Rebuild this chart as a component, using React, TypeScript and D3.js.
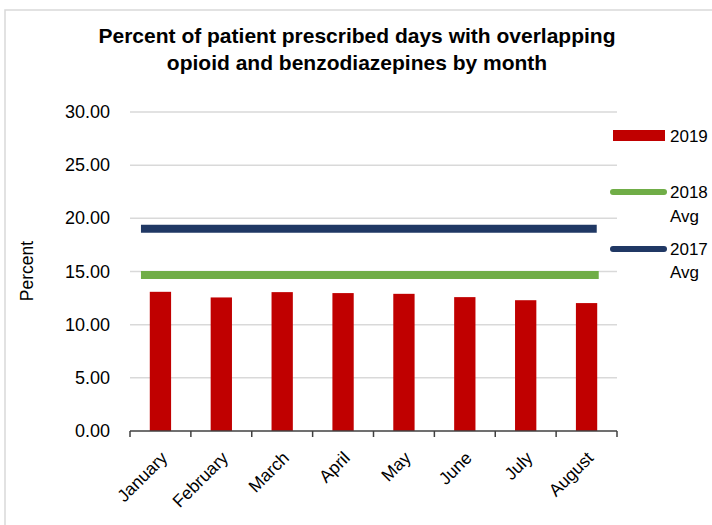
import React from "react";
import * as d3 from "d3";

const months = ["January", "February", "March", "April", "May", "June", "July", "August"];
const values2019 = [13.09, 12.56, 13.06, 12.97, 12.9, 12.59, 12.3, 12.03];
const avg2018 = 14.66;
const avg2017 = 19.01;
const yTicks = [0, 5, 10, 15, 20, 25, 30];
const titleLines = ["Percent of patient prescribed days with overlapping", "opioid and benzodiazepines by month"];

const W = 712;
const H = 525;
const left = 130;
const right = 617;
const top = 112;
const bottom = 431;
const font = "'Liberation Sans', Arial, sans-serif";

export default function App() {
  const x = d3.scaleBand<string>().domain(months).range([left, right]).paddingInner(0).paddingOuter(0);
  const y = d3.scaleLinear().domain([0, 30]).range([bottom, top]);
  const bw = x.bandwidth();
  const barW = bw * 0.35;
  const lx0 = (x(months[0]) as number) + bw * 0.18;
  const lx1 = (x(months[months.length - 1]) as number) + bw * 0.7;

  return (
    <svg width={W} height={H} style={{ position: "absolute", left: 0, top: 0, background: "#fff" }}>
      <rect x={5} y={10} width={W} height={H} fill="#fff" stroke="#d9d9d9" strokeWidth={1.5} />
      {titleLines.map((t, i) => (
        <text key={i} x={357} y={43 + i * 27} textAnchor="middle" fontFamily={font} fontWeight="bold" fontSize={21} fill="#000">
          {t}
        </text>
      ))}
      {yTicks.map((t) => (
        <g key={t}>
          {t > 0 && <line x1={left} x2={right} y1={y(t)} y2={y(t)} stroke="#d9d9d9" strokeWidth={1.5} />}
          <text x={110} y={y(t) + 6} textAnchor="end" fontFamily={font} fontSize={18} fill="#000">
            {t.toFixed(2)}
          </text>
        </g>
      ))}
      {months.map((m, i) => (
        <rect key={m} x={(x(m) as number) + bw / 2 - barW / 2} y={y(values2019[i])} width={barW} height={y(0) - y(values2019[i])} fill="#c00000" />
      ))}
      <line x1={lx0} x2={lx1} y1={y(avg2018)} y2={y(avg2018)} stroke="#70ad47" strokeWidth={8} />
      <line x1={lx0} x2={lx1 - 2} y1={y(avg2017)} y2={y(avg2017)} stroke="#203864" strokeWidth={8} />
      <line x1={left} x2={right} y1={bottom} y2={bottom} stroke="#404040" strokeWidth={1.5} />
      {[...months.map((m) => x(m) as number), right].map((tx, i) => (
        <line key={i} x1={tx} x2={tx} y1={bottom} y2={bottom + 6} stroke="#404040" strokeWidth={1.5} />
      ))}
      {months.map((m) => {
        const cx = (x(m) as number) + bw / 2 + 8;
        const cy = bottom + 28;
        return (
          <text key={m} transform={`translate(${cx},${cy}) rotate(-45)`} textAnchor="end" fontFamily={font} fontSize={17.5} fill="#000">
            {m}
          </text>
        );
      })}
      <text transform={`translate(33,271) rotate(-90)`} textAnchor="middle" fontFamily={font} fontSize={17.5} fill="#000">
        Percent
      </text>
      {/* legend */}
      <rect x={613} y={130} width={52} height={11} fill="#c00000" />
      <text x={670} y={142} fontFamily={font} fontSize={17} fill="#000">2019</text>
      <line x1={613} x2={664} y1={192} y2={192} stroke="#70ad47" strokeWidth={6} strokeLinecap="round" />
      <text x={670} y={198} fontFamily={font} fontSize={17} fill="#000">2018</text>
      <text x={670} y={222} fontFamily={font} fontSize={17} fill="#000">Avg</text>
      <line x1={613} x2={664} y1={249} y2={249} stroke="#203864" strokeWidth={6} strokeLinecap="round" />
      <text x={670} y={255} fontFamily={font} fontSize={17} fill="#000">2017</text>
      <text x={670} y={278} fontFamily={font} fontSize={17} fill="#000">Avg</text>
    </svg>
  );
}
